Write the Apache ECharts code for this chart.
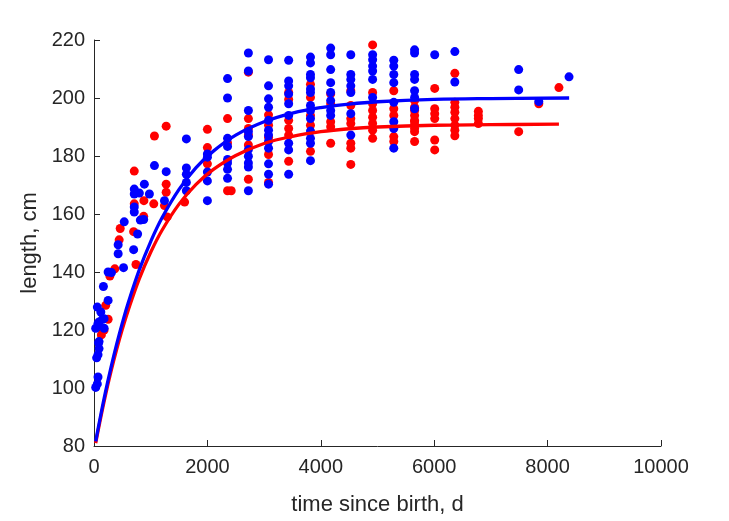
<!DOCTYPE html>
<html>
<head>
<meta charset="utf-8">
<script src="https://cdn.jsdelivr.net/npm/echarts@6/dist/echarts.min.js"></script>
<style>
html,body{margin:0;padding:0;background:#fff;}
#chart{width:729px;height:521px;}
</style>
</head>
<body>
<div id="chart"></div>
<script>
// Axis ticks
const xTicks = [0, 2000, 4000, 6000, 8000, 10000];
const yTicks = [80, 100, 120, 140, 160, 180, 200, 220];

// Red observations (time since birth in days, length in cm)
const redTime = [
  130, 178, 249, 207, 280, 367, 740, 444, 462, 699, 876, 710, 1054, 880, 1243, 1290, 1598,
  710, 1066, 1273, 1273, 1273,
  2000, 2000, 2000,
  2355, 2355, 2420, 2355,
  2723, 2723, 2723, 2723, 2723, 2723,
  3078, 3078, 3078, 3078, 3078,
  3433, 3433, 3433, 3433, 3433, 3433,
  3818, 3818, 3818, 3818, 3818,
  4174, 4174, 4174, 4174, 4174,
  4529, 4529, 4529, 4529, 4529, 4529, 4529,
  4914, 4914, 4914, 4914, 4914, 4914, 4914, 4914,
  5287, 5287, 5287, 5287, 5287,
  5654, 5654, 5654, 5654, 5654, 5654, 5654, 5654, 5654, 5654,
  6009, 6009, 6009, 6009, 6009, 6009,
  6364, 6364, 6364, 6364, 6364, 6364, 6364, 6364,
  6779, 6779, 6779, 6779,
  7490, 7845, 8200
];
const redLength = [
  118.3, 120.0, 123.7, 128.5, 138.6, 141.1, 142.6, 151.1, 155.0, 153.9, 159.2, 163.5, 163.5, 164.6, 162.9, 159.0, 164.1,
  174.8, 186.9, 190.3, 170.3, 167.5,
  189.2, 182.9, 177.3,
  192.9, 168.0, 168.0, 184.5,
  208.9, 192.9, 189.5, 187.2, 183.8, 172.0,
  194.2, 190.6, 186.5, 180.5, 170.9,
  201.9, 199.5, 192.3, 189.5, 187.2, 178.2,
  204.7, 200.2, 194.0, 190.6, 181.6,
  201.4, 198.0, 191.8, 190.1, 184.4,
  202.5, 197.4, 192.9, 191.2, 184.4, 182.7, 177.1,
  218.3, 201.9, 198.0, 195.7, 193.4, 191.2, 188.9, 186.1,
  202.5, 196.3, 194.0, 186.7, 185.0,
  199.1, 196.8, 195.7, 194.0, 192.3, 191.8, 190.6, 189.5, 188.4, 185.0,
  203.3, 196.3, 194.6, 192.9, 185.5, 182.1,
  208.5, 198.5, 196.8, 195.1, 192.9, 190.6, 188.9, 187.0,
  195.4, 194.0, 192.9, 191.2,
  188.4, 198.0, 203.6
];

// Blue observations
const blueTime = [
  30, 59, 71, 47, 71, 89, 80, 89, 30, 178, 71, 89, 178, 150, 120, 59, 249, 166, 249, 308,
  521, 699, 426, 426, 533, 769, 817, 876, 710, 710, 1243,
  710, 710, 888, 977, 800, 1066, 1273,
  1629, 1629, 1629, 1629, 1629,
  2000, 2000, 2000, 2000, 2000,
  2355, 2355, 2355, 2355, 2355, 2355, 2355, 2355,
  2723, 2723, 2723, 2723, 2723, 2723, 2723, 2723, 2723, 2723,
  3078, 3078, 3078, 3078, 3078, 3078, 3078, 3078, 3078, 3078, 3078, 3078,
  3433, 3433, 3433, 3433, 3433, 3433, 3433, 3433, 3433,
  3818, 3818, 3818, 3818, 3818, 3818, 3818, 3818, 3818, 3818, 3818, 3818, 3818,
  4174, 4174, 4174, 4174, 4174, 4174, 4174, 4174,
  4529, 4529, 4529, 4529, 4529, 4529, 4529,
  4914, 4914, 4914, 4914, 4914, 4914,
  5287, 5287, 5287, 5287, 5287, 5287, 5287, 5287,
  5654, 5654, 5654, 5654, 5654, 5654, 5654,
  6009, 6364, 6364, 7490, 7490, 7845, 8378
];
const blueLength = [
  100.2, 101.4, 103.8, 110.4, 111.5, 113.6, 115.5, 116.0, 120.6, 120.6, 122.3, 122.8, 123.9, 123.7, 126.2, 127.9, 130.2, 135.0, 140.0, 139.8,
  141.5, 147.7, 146.3, 149.4, 157.3, 153.1, 157.9, 158.1, 160.7, 162.4, 164.6,
  168.6, 166.9, 170.3, 166.9, 167.2, 176.7, 174.6,
  185.9, 175.9, 173.7, 170.9, 168.0,
  180.7, 179.6, 174.5, 171.4, 164.6,
  206.7, 200.0, 186.1, 183.3, 178.8, 177.6, 175.4, 172.3,
  215.5, 209.3, 195.7, 188.4, 186.7, 182.2, 179.9, 177.6, 176.2, 168.0,
  213.2, 204.2, 199.7, 196.8, 192.3, 188.9, 187.2, 185.0, 182.7, 177.3, 173.7, 170.3,
  213.0, 205.9, 204.2, 201.4, 198.0, 194.0, 184.4, 182.1, 173.7,
  214.1, 212.1, 208.1, 207.0, 203.1, 201.9, 197.4, 195.7, 192.9, 188.6, 186.1, 184.4, 178.4,
  217.2, 214.9, 209.8, 205.3, 201.9, 199.1, 195.7, 194.0,
  214.9, 208.1, 206.4, 204.2, 201.9, 194.6, 187.2,
  214.9, 213.2, 211.0, 209.3, 206.4, 200.2,
  213.0, 211.0, 208.1, 205.3, 198.5, 191.8, 189.5, 182.7,
  216.6, 215.5, 208.1, 206.4, 202.5, 200.2, 196.3,
  214.9, 216.0, 205.5, 209.8, 202.8, 198.8, 207.3
];

// Fitted growth curves
const redFitTime = [30, 100, 200, 300, 400, 500, 600, 800, 1000, 1200, 1500, 1800, 2100, 2500, 3000, 3500, 4000, 4500, 5000, 6000, 7000, 8200];
const redFitLength = [81.0, 88.0, 97.3, 105.7, 113.3, 120.3, 126.6, 137.7, 146.8, 154.4, 163.4, 170.2, 175.3, 180.2, 184.3, 186.8, 188.4, 189.4, 190.0, 190.6, 190.8, 191.0];
const blueFitTime = [30, 100, 200, 300, 400, 500, 600, 800, 1000, 1200, 1500, 1800, 2100, 2500, 3000, 3500, 4000, 4500, 5000, 6000, 7000, 8380];
const blueFitLength = [81.6, 88.8, 98.4, 107.1, 115.1, 122.4, 129.1, 140.8, 150.5, 158.7, 168.5, 176.0, 181.6, 187.2, 191.8, 194.8, 196.7, 197.9, 198.7, 199.5, 199.8, 200.0];

const pairs = (a, b) => a.map((v, i) => [v, b[i]]);

const textColor = '#262626';
const fontFamily = '"Liberation Sans", Arial, Helvetica, sans-serif';

const chart = echarts.init(document.getElementById('chart'), null, {renderer: 'canvas'});
chart.setOption({
  animation: false,
  backgroundColor: '#ffffff',
  grid: {left: 94, right: 68, top: 40, bottom: 68, containLabel: false},
  xAxis: {
    type: 'value',
    min: xTicks[0], max: xTicks[xTicks.length - 1], interval: 2000,
    name: 'time since birth, d',
    nameLocation: 'middle', nameGap: 48,
    nameTextStyle: {color: textColor, fontSize: 22, fontFamily: fontFamily},
    axisLine: {show: true, lineStyle: {color: textColor, width: 1}},
    axisTick: {show: true, inside: true, length: 6, lineStyle: {color: textColor}},
    axisLabel: {color: textColor, fontSize: 20, fontFamily: fontFamily, margin: 11,
      formatter: (v) => String(v)},
    splitLine: {show: false}
  },
  yAxis: {
    type: 'value',
    min: yTicks[0], max: yTicks[yTicks.length - 1], interval: 20,
    name: 'length, cm',
    nameLocation: 'middle', nameGap: 46, nameRotate: 90,
    nameTextStyle: {color: textColor, fontSize: 22, fontFamily: fontFamily},
    axisLine: {show: true, lineStyle: {color: textColor, width: 1}},
    axisTick: {show: true, inside: true, length: 6, lineStyle: {color: textColor}},
    axisLabel: {color: textColor, fontSize: 20, fontFamily: fontFamily, margin: 9,
      formatter: (v) => String(v)},
    splitLine: {show: false}
  },
  series: [
    {
      type: 'scatter', name: 'red data', data: pairs(redTime, redLength),
      symbol: 'circle', symbolSize: 9, itemStyle: {color: '#ff0000', opacity: 1}, z: 2
    },
    {
      type: 'scatter', name: 'blue data', data: pairs(blueTime, blueLength),
      symbol: 'circle', symbolSize: 9, itemStyle: {color: '#0000ff', opacity: 1}, z: 3
    },
    {
      type: 'line', name: 'red fit', data: pairs(redFitTime, redFitLength),
      smooth: 0.4, showSymbol: false, lineStyle: {color: '#ff0000', width: 3.3}, z: 4
    },
    {
      type: 'line', name: 'blue fit', data: pairs(blueFitTime, blueFitLength),
      smooth: 0.4, showSymbol: false, lineStyle: {color: '#0000ff', width: 3.3}, z: 5
    }
  ]
});
</script>
</body>
</html>
